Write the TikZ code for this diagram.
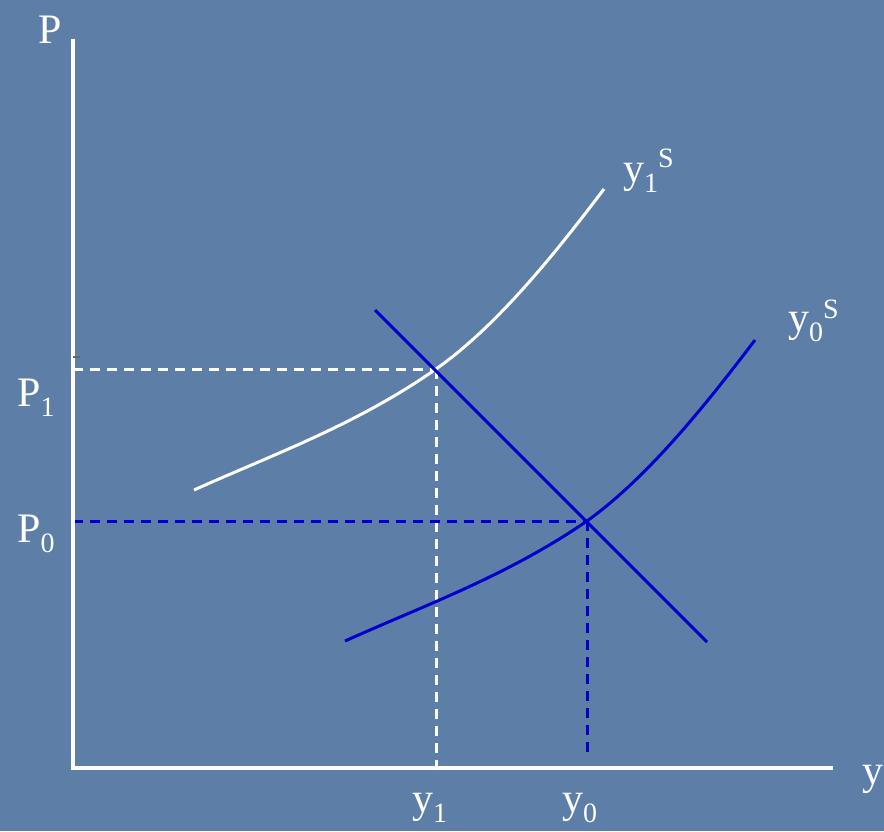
\documentclass[tikz,border=0pt]{standalone}
\usepackage{fontspec}
\setmainfont{Liberation Serif}
\definecolor{bgblue}{RGB}{92,126,167}
\definecolor{lineblue}{RGB}{0,0,204}
\tikzset{
  axisline/.style={white, line width=3.2pt},
  wcurve/.style={white, line width=3pt},
  bcurve/.style={lineblue, line width=3pt},
  wdash/.style={white, line width=3pt, dash pattern=on 10pt off 7pt},
  bdash/.style={lineblue, line width=3pt, dash pattern=on 10pt off 7pt},
  lbl/.style={white, inner sep=0pt, anchor=base west, font=\fontsize{42}{42}\selectfont},
}
\newcommand{\sbx}[1]{\raisebox{-10pt}{\fontsize{28}{28}\selectfont #1}}
\newcommand{\spx}[2]{\raisebox{#1}{\fontsize{28}{28}\selectfont #2}}
\begin{document}
\begin{tikzpicture}[x=1pt,y=-1pt]
\fill[bgblue] (0,0) rectangle (884,831);
\useasboundingbox (0,0) rectangle (884,831);
% key points
\coordinate (O) at (73,768);
\coordinate (Ytop) at (73,39);
\coordinate (Xend) at (833,768);
\coordinate (A) at (436,369);
\coordinate (B) at (587,521);
\coordinate (P1a) at (73,369);
\coordinate (P0a) at (73,521);
\coordinate (Y1a) at (436,772);
\coordinate (Y0a) at (587,755);
\coordinate (Ds) at (375,310);
\coordinate (De) at (707,642);
\coordinate (W0) at (194,490);
\coordinate (W1) at (604,189);
\coordinate (B0) at (345,641);
\coordinate (B1) at (755,340);
\coordinate (T0) at (73,357);
\coordinate (T1) at (80,357);
% dashed guides
\draw[wdash] (P1a) -- (A);
\draw[wdash] (A) -- (Y1a);
\draw[bdash] (P0a) -- (B);
\draw[bdash] (B) -- (Y0a);
% axes
\draw[axisline] (Ytop) -- (O) -- (Xend);
\draw[black!60, line width=1.2pt] (T0) -- (T1);
% supply curves
\draw[wcurve] (W0) .. controls (274,454) and (356,425) .. (A)
  .. controls (496,327) and (554,255) .. (W1);
\draw[bcurve] (B0) .. controls (425,605) and (507,576) .. (B)
  .. controls (647,478) and (705,406) .. (B1);
% demand line
\draw[bcurve] (Ds) -- (De);
% labels
\node[lbl] (lP) at (38,43) {P};
\node[lbl] (lP1) at (17,406) {P\sbx{1}};
\node[lbl] (lP0) at (17,542) {P\sbx{0}};
\node[lbl] (ly1) at (412,812) {y\sbx{1}};
\node[lbl] (ly0) at (562,812) {y\sbx{0}};
\node[lbl] (ly) at (862,784) {y};
\node[lbl] (ly1s) at (623,182) {y\sbx{1}\spx{15pt}{S}};
\node[lbl] (ly0s) at (788,331) {y\sbx{0}\spx{13pt}{S}};
\end{tikzpicture}
\end{document}
